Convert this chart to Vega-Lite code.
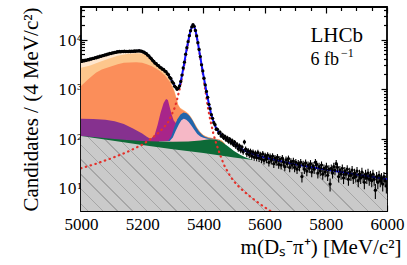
{
  "$schema": "https://vega.github.io/schema/vega-lite/v6.json",
  "width": 306,
  "height": 204,
  "autosize": "none",
  "padding": {"left": 81, "top": 7, "right": 20, "bottom": 54},
  "config": {"view": {"stroke": "black", "strokeWidth": 1.8}, "font": "Liberation Serif"},
  "datasets": {
    "comp": [
      {"c":"cream","m":5000,"v":3550},{"c":"cream","m":5020,"v":3800},{"c":"cream","m":5040,"v":4100},{"c":"cream","m":5060,"v":4450},{"c":"cream","m":5080,"v":4850},{"c":"cream","m":5100,"v":5250},{"c":"cream","m":5120,"v":5600},{"c":"cream","m":5140,"v":5700},{"c":"cream","m":5160,"v":5700},{"c":"cream","m":5180,"v":5800},{"c":"cream","m":5192,"v":5850},{"c":"cream","m":5200,"v":5680},{"c":"cream","m":5210,"v":5250},{"c":"cream","m":5220,"v":4650},{"c":"cream","m":5230,"v":3950},{"c":"cream","m":5240,"v":3350},{"c":"cream","m":5250,"v":2950},{"c":"cream","m":5260,"v":2600},{"c":"cream","m":5270,"v":2330},{"c":"cream","m":5280,"v":2020},{"c":"cream","m":5290,"v":1600},{"c":"cream","m":5300,"v":1150},{"c":"cream","m":5306,"v":900},{"c":"cream","m":5312,"v":650},{"c":"cream","m":5318,"v":480},{"c":"cream","m":5324,"v":420},{"c":"cream","m":5330,"v":395},{"c":"cream","m":5340,"v":360},{"c":"cream","m":5350,"v":322},{"c":"cream","m":5360,"v":268},{"c":"cream","m":5370,"v":210},{"c":"cream","m":5380,"v":164},{"c":"cream","m":5390,"v":136},{"c":"cream","m":5400,"v":118},{"c":"cream","m":5415,"v":107},{"c":"cream","m":5430,"v":102},{"c":"cream","m":5450,"v":97},{"c":"cream","m":5460,"v":91},{"c":"cream","m":5470,"v":78},
      {"c":"lorange","m":5000,"v":2680},{"c":"lorange","m":5030,"v":3000},{"c":"lorange","m":5060,"v":3500},{"c":"lorange","m":5090,"v":4100},{"c":"lorange","m":5120,"v":4700},{"c":"lorange","m":5150,"v":5100},{"c":"lorange","m":5180,"v":5300},{"c":"lorange","m":5200,"v":5200},{"c":"lorange","m":5210,"v":5000},{"c":"lorange","m":5220,"v":4550},{"c":"lorange","m":5230,"v":3880},{"c":"lorange","m":5240,"v":3300},{"c":"lorange","m":5250,"v":2900},{"c":"lorange","m":5260,"v":2560},{"c":"lorange","m":5270,"v":2290},{"c":"lorange","m":5280,"v":2000},{"c":"lorange","m":5290,"v":1590},{"c":"lorange","m":5300,"v":1140},{"c":"lorange","m":5306,"v":895},{"c":"lorange","m":5312,"v":645},{"c":"lorange","m":5318,"v":478},{"c":"lorange","m":5324,"v":420},{"c":"lorange","m":5330,"v":395},{"c":"lorange","m":5340,"v":360},{"c":"lorange","m":5350,"v":322},{"c":"lorange","m":5360,"v":268},{"c":"lorange","m":5370,"v":210},{"c":"lorange","m":5380,"v":164},{"c":"lorange","m":5390,"v":136},{"c":"lorange","m":5400,"v":118},{"c":"lorange","m":5415,"v":107},{"c":"lorange","m":5430,"v":102},{"c":"lorange","m":5450,"v":97},{"c":"lorange","m":5460,"v":91},{"c":"lorange","m":5470,"v":78},
      {"c":"orange","m":5000,"v":1150},{"c":"orange","m":5020,"v":1500},{"c":"orange","m":5035,"v":1820},{"c":"orange","m":5050,"v":2150},{"c":"orange","m":5068,"v":2480},{"c":"orange","m":5085,"v":2700},{"c":"orange","m":5100,"v":2880},{"c":"orange","m":5120,"v":3150},{"c":"orange","m":5140,"v":3380},{"c":"orange","m":5160,"v":3450},{"c":"orange","m":5180,"v":3470},{"c":"orange","m":5200,"v":3380},{"c":"orange","m":5215,"v":3150},{"c":"orange","m":5232,"v":2880},{"c":"orange","m":5245,"v":2600},{"c":"orange","m":5259,"v":2290},{"c":"orange","m":5275,"v":1850},{"c":"orange","m":5290,"v":1400},{"c":"orange","m":5300,"v":1050},{"c":"orange","m":5306,"v":840},{"c":"orange","m":5312,"v":620},{"c":"orange","m":5318,"v":465},{"c":"orange","m":5324,"v":410},{"c":"orange","m":5330,"v":380},{"c":"orange","m":5340,"v":350},{"c":"orange","m":5350,"v":315},{"c":"orange","m":5360,"v":262},{"c":"orange","m":5370,"v":205},{"c":"orange","m":5380,"v":160},{"c":"orange","m":5390,"v":133},{"c":"orange","m":5400,"v":116},{"c":"orange","m":5415,"v":105},{"c":"orange","m":5430,"v":101},{"c":"orange","m":5450,"v":96},{"c":"orange","m":5460,"v":90},{"c":"orange","m":5470,"v":78},
      {"c":"purple","m":5000,"v":250},{"c":"purple","m":5040,"v":247},{"c":"purple","m":5080,"v":238},{"c":"purple","m":5110,"v":222},{"c":"purple","m":5140,"v":196},{"c":"purple","m":5170,"v":160},{"c":"purple","m":5200,"v":126},{"c":"purple","m":5215,"v":108},{"c":"purple","m":5228,"v":98},{"c":"purple","m":5240,"v":115},
      {"c":"magenta","m":5200,"v":89},{"c":"magenta","m":5225,"v":91},{"c":"magenta","m":5240,"v":115},{"c":"magenta","m":5250,"v":185},{"c":"magenta","m":5260,"v":330},{"c":"magenta","m":5270,"v":520},{"c":"magenta","m":5278,"v":630},{"c":"magenta","m":5284,"v":600},{"c":"magenta","m":5290,"v":430},{"c":"magenta","m":5296,"v":310},{"c":"magenta","m":5303,"v":230},{"c":"magenta","m":5310,"v":205},{"c":"magenta","m":5318,"v":262},
      {"c":"blue","m":5255,"v":87.5},{"c":"blue","m":5285,"v":90},{"c":"blue","m":5295,"v":110},{"c":"blue","m":5305,"v":170},{"c":"blue","m":5315,"v":245},{"c":"blue","m":5325,"v":305},{"c":"blue","m":5335,"v":336},{"c":"blue","m":5345,"v":325},{"c":"blue","m":5355,"v":285},{"c":"blue","m":5365,"v":230},{"c":"blue","m":5375,"v":175},{"c":"blue","m":5385,"v":140},{"c":"blue","m":5395,"v":120},{"c":"blue","m":5405,"v":108},{"c":"blue","m":5420,"v":101},{"c":"blue","m":5440,"v":97},{"c":"blue","m":5455,"v":91},
      {"c":"pink","m":5255,"v":87.4},{"c":"pink","m":5290,"v":89},{"c":"pink","m":5300,"v":105},{"c":"pink","m":5310,"v":145},{"c":"pink","m":5320,"v":195},{"c":"pink","m":5328,"v":235},{"c":"pink","m":5336,"v":250},{"c":"pink","m":5344,"v":240},{"c":"pink","m":5352,"v":215},{"c":"pink","m":5360,"v":185},{"c":"pink","m":5370,"v":150},{"c":"pink","m":5380,"v":124},{"c":"pink","m":5390,"v":110},{"c":"pink","m":5400,"v":104},{"c":"pink","m":5412,"v":99},{"c":"pink","m":5425,"v":98},{"c":"pink","m":5440,"v":96.5},{"c":"pink","m":5450,"v":92},
      {"c":"green","m":5000,"v":113},{"c":"green","m":5050,"v":106},{"c":"green","m":5100,"v":99},{"c":"green","m":5150,"v":93},{"c":"green","m":5200,"v":89},{"c":"green","m":5250,"v":87},{"c":"green","m":5300,"v":86},{"c":"green","m":5350,"v":87},{"c":"green","m":5390,"v":91},{"c":"green","m":5420,"v":97},{"c":"green","m":5440,"v":96},{"c":"green","m":5460,"v":86},{"c":"green","m":5480,"v":70},{"c":"green","m":5500,"v":56},{"c":"green","m":5520,"v":47},{"c":"green","m":5540,"v":41},{"c":"green","m":5560,"v":37.2},
      {"c":"grey","m":5000,"v":112},{"c":"grey","m":5100,"v":91},{"c":"grey","m":5200,"v":74},{"c":"grey","m":5300,"v":61},{"c":"grey","m":5400,"v":51},{"c":"grey","m":5500,"v":41.5},{"c":"grey","m":5600,"v":34.5},{"c":"grey","m":5700,"v":28},{"c":"grey","m":5800,"v":22.5},{"c":"grey","m":5900,"v":18.3},{"c":"grey","m":6000,"v":14.8}
    ],
    "sig": [
      {"m":5000,"v":25},{"m":5050,"v":31},{"m":5100,"v":40},{"m":5150,"v":53},{"m":5200,"v":75},{"m":5230,"v":100},{"m":5250,"v":125},{"m":5270,"v":165},{"m":5285,"v":215},{"m":5295,"v":290},{"m":5305,"v":400},{"m":5312,"v":550},{"m":5318,"v":780},{"m":5324,"v":1100},{"m":5330,"v":1700},{"m":5336,"v":2700},{"m":5342,"v":4500},{"m":5348,"v":7300},{"m":5354,"v":11500},{"m":5360,"v":16000},{"m":5366,"v":19400},{"m":5372,"v":16300},{"m":5378,"v":11300},{"m":5384,"v":7000},{"m":5390,"v":4200},{"m":5396,"v":2500},{"m":5402,"v":1400},{"m":5408,"v":800},{"m":5414,"v":450},{"m":5420,"v":280},{"m":5426,"v":190},{"m":5432,"v":130},{"m":5438,"v":95},{"m":5445,"v":70},{"m":5452,"v":52},{"m":5460,"v":38},{"m":5470,"v":27},{"m":5480,"v":21},{"m":5490,"v":16.5},{"m":5500,"v":13.5},{"m":5520,"v":10},{"m":5540,"v":7.8},{"m":5560,"v":6.2},{"m":5580,"v":5},{"m":5600,"v":4.1},{"m":5620,"v":3.4}
    ],
    "fit": [
      {"m":5000,"v":3600},{"m":5020,"v":3850},{"m":5040,"v":4150},{"m":5060,"v":4500},{"m":5080,"v":4900},{"m":5100,"v":5300},{"m":5120,"v":5650},{"m":5140,"v":5750},{"m":5160,"v":5750},{"m":5180,"v":5850},{"m":5192,"v":5900},{"m":5200,"v":5750},{"m":5210,"v":5350},{"m":5220,"v":4750},{"m":5230,"v":4050},{"m":5240,"v":3450},{"m":5250,"v":3050},{"m":5260,"v":2700},{"m":5270,"v":2450},{"m":5280,"v":2150},{"m":5290,"v":1750},{"m":5300,"v":1350},{"m":5308,"v":1100},{"m":5314,"v":1000},{"m":5320,"v":1050},{"m":5326,"v":1400},{"m":5332,"v":2200},{"m":5338,"v":3500},{"m":5344,"v":5800},{"m":5350,"v":9000},{"m":5356,"v":13500},{"m":5362,"v":18000},{"m":5364,"v":19400},{"m":5366,"v":19800},{"m":5368,"v":19400},{"m":5370,"v":18500},{"m":5376,"v":13500},{"m":5382,"v":8600},{"m":5388,"v":5200},{"m":5394,"v":3100},{"m":5400,"v":1900},{"m":5406,"v":1200},{"m":5412,"v":760},{"m":5418,"v":500},{"m":5424,"v":340},{"m":5430,"v":250},{"m":5436,"v":195},{"m":5442,"v":160},{"m":5450,"v":135},{"m":5460,"v":116},{"m":5470,"v":104},{"m":5480,"v":95},{"m":5490,"v":86},{"m":5500,"v":78},{"m":5510,"v":71},{"m":5520,"v":64},{"m":5530,"v":59},{"m":5540,"v":55},{"m":5560,"v":49},{"m":5580,"v":45},{"m":5600,"v":41.5},{"m":5650,"v":35},{"m":5700,"v":30},{"m":5750,"v":26.5},{"m":5800,"v":23.5},{"m":5850,"v":21},{"m":5900,"v":18.8},{"m":5950,"v":16.8},{"m":6000,"v":15}
    ],
    "pts": [
      {"m":5002,"v":3610,"e":60},{"m":5006,"v":3720,"e":61},{"m":5010,"v":3690,"e":61},{"m":5014,"v":3810,"e":62},{"m":5018,"v":3790,"e":62},{"m":5022,"v":3920,"e":63},{"m":5026,"v":3900,"e":62},{"m":5030,"v":4050,"e":64},{"m":5034,"v":4020,"e":63},{"m":5038,"v":4170,"e":65},
      {"m":5042,"v":4150,"e":64},{"m":5046,"v":4300,"e":66},{"m":5050,"v":4280,"e":65},{"m":5054,"v":4440,"e":67},{"m":5058,"v":4420,"e":66},{"m":5062,"v":4590,"e":68},{"m":5066,"v":4580,"e":68},{"m":5070,"v":4740,"e":69},{"m":5074,"v":4730,"e":69},{"m":5078,"v":4900,"e":70},
      {"m":5082,"v":4890,"e":70},{"m":5086,"v":5080,"e":71},{"m":5090,"v":5050,"e":71},{"m":5094,"v":5230,"e":72},{"m":5098,"v":5210,"e":72},{"m":5102,"v":5380,"e":73},{"m":5106,"v":5360,"e":73},{"m":5110,"v":5520,"e":74},{"m":5114,"v":5490,"e":74},{"m":5118,"v":5660,"e":75},
      {"m":5122,"v":5610,"e":75},{"m":5126,"v":5730,"e":76},{"m":5130,"v":5650,"e":75},{"m":5134,"v":5760,"e":76},{"m":5138,"v":5700,"e":75},{"m":5142,"v":5790,"e":76},{"m":5146,"v":5700,"e":75},{"m":5150,"v":5780,"e":76},{"m":5154,"v":5710,"e":76},{"m":5158,"v":5800,"e":76},
      {"m":5162,"v":5720,"e":76},{"m":5166,"v":5830,"e":76},{"m":5170,"v":5760,"e":76},{"m":5174,"v":5870,"e":77},{"m":5178,"v":5800,"e":76},{"m":5182,"v":5900,"e":77},{"m":5186,"v":5830,"e":76},{"m":5190,"v":5940,"e":77},{"m":5194,"v":5820,"e":76},{"m":5198,"v":5840,"e":76},
      {"m":5202,"v":5630,"e":75},{"m":5206,"v":5560,"e":75},{"m":5210,"v":5300,"e":73},{"m":5214,"v":5160,"e":72},{"m":5218,"v":4820,"e":69},{"m":5222,"v":4660,"e":68},{"m":5226,"v":4290,"e":65},{"m":5230,"v":4090,"e":64},{"m":5234,"v":3770,"e":61},{"m":5238,"v":3610,"e":60},
      {"m":5242,"v":3330,"e":58},{"m":5246,"v":3250,"e":57},{"m":5250,"v":3010,"e":55},{"m":5254,"v":2950,"e":54},{"m":5258,"v":2740,"e":52},{"m":5262,"v":2680,"e":52},{"m":5266,"v":2520,"e":50},{"m":5270,"v":2480,"e":50},{"m":5274,"v":2300,"e":48},{"m":5278,"v":2240,"e":47},
      {"m":5282,"v":2040,"e":45},{"m":5286,"v":1940,"e":44},{"m":5290,"v":1720,"e":41},{"m":5294,"v":1610,"e":40},{"m":5298,"v":1410,"e":38},{"m":5302,"v":1310,"e":36},{"m":5306,"v":1140,"e":34},{"m":5310,"v":1080,"e":33},{"m":5314,"v":990,"e":31},{"m":5318,"v":1045,"e":32},
      {"m":5322,"v":1150,"e":34},{"m":5326,"v":1420,"e":38},{"m":5330,"v":1910,"e":44},{"m":5334,"v":2660,"e":52},{"m":5338,"v":3480,"e":59},{"m":5342,"v":5060,"e":71},{"m":5346,"v":6830,"e":83},{"m":5350,"v":9050,"e":95},{"m":5354,"v":11950,"e":109},{"m":5358,"v":15050,"e":123},
      {"m":5362,"v":17950,"e":134},{"m":5366,"v":19850,"e":141},{"m":5370,"v":18450,"e":136},{"m":5374,"v":15220,"e":123},{"m":5378,"v":11820,"e":109},{"m":5382,"v":8650,"e":93},{"m":5386,"v":6290,"e":79},{"m":5390,"v":4530,"e":67},{"m":5394,"v":3080,"e":55},{"m":5398,"v":2320,"e":48},
      {"m":5402,"v":1650,"e":41},{"m":5406,"v":1210,"e":35},{"m":5410,"v":895,"e":30},{"m":5414,"v":680,"e":26},{"m":5418,"v":490,"e":22},{"m":5422,"v":400,"e":20},{"m":5426,"v":302,"e":17.4},{"m":5430,"v":256,"e":16},{"m":5434,"v":208,"e":14.4},{"m":5438,"v":190,"e":13.8},
      {"m":5442,"v":154,"e":12.4},{"m":5446,"v":153,"e":12.4},{"m":5450,"v":129,"e":11.4},{"m":5454,"v":134,"e":11.6},{"m":5458,"v":113,"e":10.6},{"m":5462,"v":120,"e":11},{"m":5466,"v":104,"e":10.2},{"m":5470,"v":110,"e":10.5},{"m":5474,"v":95,"e":9.7},{"m":5478,"v":103,"e":10.1},
      {"m":5482,"v":88,"e":9.4},{"m":5486,"v":97,"e":9.8},{"m":5490,"v":82,"e":9.1},{"m":5494,"v":90,"e":9.5},{"m":5498,"v":76,"e":8.7},{"m":5502,"v":84,"e":9.2},{"m":5506,"v":70,"e":8.4},{"m":5510,"v":76,"e":8.7},{"m":5514,"v":62,"e":7.9},{"m":5518,"v":71,"e":8.4},
      {"m":5522,"v":58,"e":7.6},{"m":5526,"v":67,"e":8.2},{"m":5530,"v":54,"e":7.3},{"m":5534,"v":85,"e":9.2},{"m":5538,"v":61,"e":7.8},{"m":5542,"v":49,"e":7},{"m":5546,"v":57,"e":7.5},{"m":5550,"v":47,"e":6.9},{"m":5554,"v":55,"e":7.4},{"m":5558,"v":44,"e":6.6},
      {"m":5562,"v":53,"e":7.3},{"m":5566,"v":42,"e":6.5},{"m":5570,"v":50,"e":7.1},{"m":5574,"v":41,"e":6.4},{"m":5578,"v":52,"e":7.2},{"m":5582,"v":40,"e":6.3},{"m":5586,"v":47,"e":6.9},{"m":5590,"v":38,"e":6.2},{"m":5594,"v":49,"e":7},{"m":5598,"v":36,"e":6},
      {"m":5602,"v":45,"e":6.7},{"m":5606,"v":38,"e":6.2},{"m":5610,"v":46,"e":6.8},{"m":5614,"v":33,"e":5.7},{"m":5618,"v":43,"e":6.6},{"m":5622,"v":36,"e":6},{"m":5626,"v":44,"e":6.6},{"m":5630,"v":31,"e":5.6},{"m":5634,"v":40,"e":6.3},{"m":5638,"v":34,"e":5.8},
      {"m":5642,"v":42,"e":6.5},{"m":5646,"v":30,"e":5.5},{"m":5650,"v":38,"e":6.2},{"m":5654,"v":29,"e":5.4},{"m":5658,"v":40,"e":6.3},{"m":5662,"v":33,"e":5.7},{"m":5666,"v":27,"e":5.2},{"m":5670,"v":37,"e":6.1},{"m":5674,"v":31,"e":5.6},{"m":5678,"v":39,"e":6.2},
      {"m":5682,"v":26,"e":5.1},{"m":5686,"v":34,"e":5.8},{"m":5690,"v":29,"e":5.4},{"m":5694,"v":35,"e":5.9},{"m":5698,"v":26,"e":5.1},{"m":5702,"v":33,"e":5.7},{"m":5706,"v":24,"e":4.9},{"m":5710,"v":31,"e":5.6},{"m":5714,"v":27,"e":5.2},{"m":5718,"v":33,"e":5.7},
      {"m":5722,"v":17,"e":4.1},{"m":5726,"v":30,"e":5.5},{"m":5730,"v":24,"e":4.9},{"m":5734,"v":32,"e":5.7},{"m":5738,"v":22,"e":4.7},{"m":5742,"v":29,"e":5.4},{"m":5746,"v":25,"e":5},{"m":5750,"v":31,"e":5.6},{"m":5754,"v":21,"e":4.6},{"m":5758,"v":28,"e":5.3},
      {"m":5762,"v":24,"e":4.9},{"m":5766,"v":33,"e":5.7},{"m":5770,"v":30,"e":5.5},{"m":5774,"v":20,"e":4.5},{"m":5778,"v":27,"e":5.2},{"m":5782,"v":22,"e":4.7},{"m":5786,"v":29,"e":5.4},{"m":5790,"v":19,"e":4.4},{"m":5794,"v":25,"e":5},{"m":5798,"v":21,"e":4.6},
      {"m":5802,"v":27,"e":5.2},{"m":5806,"v":18,"e":4.2},{"m":5810,"v":24,"e":4.9},{"m":5814,"v":12,"e":3.5},{"m":5818,"v":25,"e":5},{"m":5822,"v":20,"e":4.5},{"m":5826,"v":27,"e":5.2},{"m":5830,"v":23,"e":4.8},{"m":5834,"v":31,"e":5.6},{"m":5838,"v":26,"e":5.1},
      {"m":5842,"v":17,"e":4.1},{"m":5846,"v":23,"e":4.8},{"m":5850,"v":19,"e":4.4},{"m":5854,"v":25,"e":5},{"m":5858,"v":16,"e":4},{"m":5862,"v":22,"e":4.7},{"m":5866,"v":19,"e":4.4},{"m":5870,"v":24,"e":4.9},{"m":5874,"v":15,"e":3.9},{"m":5878,"v":21,"e":4.6},
      {"m":5882,"v":18,"e":4.2},{"m":5886,"v":23,"e":4.8},{"m":5890,"v":16,"e":4},{"m":5894,"v":20,"e":4.5},{"m":5898,"v":17,"e":4.1},{"m":5902,"v":22,"e":4.7},{"m":5906,"v":14,"e":3.7},{"m":5910,"v":19,"e":4.4},{"m":5914,"v":16,"e":4},{"m":5918,"v":21,"e":4.6},
      {"m":5922,"v":17,"e":4.1},{"m":5926,"v":13,"e":3.6},{"m":5930,"v":19,"e":4.4},{"m":5934,"v":16,"e":4},{"m":5938,"v":20,"e":4.5},{"m":5942,"v":15,"e":3.9},{"m":5946,"v":18,"e":4.2},{"m":5950,"v":14,"e":3.7},{"m":5954,"v":19,"e":4.4},{"m":5958,"v":15,"e":3.9},
      {"m":5962,"v":9,"e":3},{"m":5966,"v":17,"e":4.1},{"m":5970,"v":13,"e":3.6},{"m":5974,"v":18,"e":4.2},{"m":5978,"v":14,"e":3.7},{"m":5982,"v":16,"e":4},{"m":5986,"v":12,"e":3.5},{"m":5990,"v":17,"e":4.1},{"m":5994,"v":14,"e":3.7},{"m":5998,"v":11,"e":3.3}
    ]
  },
  "encoding": {
    "x": {"field": "m", "type": "quantitative", "scale": {"domain": [5000, 6000], "nice": false, "zero": false}, "axis": null},
    "y": {"field": "v", "type": "quantitative", "scale": {"type": "log", "domain": [3.43, 45400], "nice": false}, "axis": null}
  },
  "resolve": {"axis": {"x": "independent", "y": "independent"}},
  "layer": [
    {"data": {"name": "comp"}, "transform": [{"filter": "datum.c == 'cream'"}], "mark": {"type": "area", "color": "#fee6ce", "opacity": 1, "clip": true}, "encoding": {"y2": {"datum": 3.43}}},
    {"data": {"name": "comp"}, "transform": [{"filter": "datum.c == 'lorange'"}], "mark": {"type": "area", "color": "#fdc68c", "opacity": 1, "clip": true}, "encoding": {"y2": {"datum": 3.43}}},
    {"data": {"name": "comp"}, "transform": [{"filter": "datum.c == 'orange'"}], "mark": {"type": "area", "color": "#fb8e5a", "opacity": 1, "clip": true}, "encoding": {"y2": {"datum": 3.43}}},
    {"data": {"name": "comp"}, "transform": [{"filter": "datum.c == 'purple'"}], "mark": {"type": "area", "color": "#86318f", "opacity": 1, "clip": true}, "encoding": {"y2": {"datum": 3.43}}},
    {"data": {"name": "comp"}, "transform": [{"filter": "datum.c == 'magenta'"}], "mark": {"type": "area", "color": "#a8258a", "opacity": 1, "clip": true}, "encoding": {"y2": {"datum": 3.43}}},
    {"data": {"name": "comp"}, "transform": [{"filter": "datum.c == 'blue'"}], "mark": {"type": "area", "color": "#2166ac", "opacity": 1, "clip": true}, "encoding": {"y2": {"datum": 3.43}}},
    {"data": {"name": "comp"}, "transform": [{"filter": "datum.c == 'pink'"}], "mark": {"type": "area", "color": "#f6b8c6", "opacity": 1, "clip": true}, "encoding": {"y2": {"datum": 3.43}}},
    {"data": {"name": "comp"}, "transform": [{"filter": "datum.c == 'green'"}], "mark": {"type": "area", "color": "#0d6a37", "opacity": 1, "clip": true}, "encoding": {"y2": {"datum": 3.43}}},
    {"data": {"name": "comp"}, "transform": [{"filter": "datum.c == 'grey'"}],
      "mark": {"type": "area", "opacity": 1, "clip": true,
        "color": {"gradient": "linear", "x1": 0, "y1": 1, "x2": 1, "y2": 0.755, "stops": [
          {"offset": 0, "color": "#cacaca"},
          {"offset": 0.0200, "color": "#cacaca"},{"offset": 0.0200, "color": "#a6a6a6"},{"offset": 0.0240, "color": "#a6a6a6"},{"offset": 0.0240, "color": "#cacaca"},
          {"offset": 0.0655, "color": "#cacaca"},{"offset": 0.0655, "color": "#a6a6a6"},{"offset": 0.0695, "color": "#a6a6a6"},{"offset": 0.0695, "color": "#cacaca"},
          {"offset": 0.1109, "color": "#cacaca"},{"offset": 0.1109, "color": "#a6a6a6"},{"offset": 0.1149, "color": "#a6a6a6"},{"offset": 0.1149, "color": "#cacaca"},
          {"offset": 0.1564, "color": "#cacaca"},{"offset": 0.1564, "color": "#a6a6a6"},{"offset": 0.1604, "color": "#a6a6a6"},{"offset": 0.1604, "color": "#cacaca"},
          {"offset": 0.2018, "color": "#cacaca"},{"offset": 0.2018, "color": "#a6a6a6"},{"offset": 0.2058, "color": "#a6a6a6"},{"offset": 0.2058, "color": "#cacaca"},
          {"offset": 0.2473, "color": "#cacaca"},{"offset": 0.2473, "color": "#a6a6a6"},{"offset": 0.2513, "color": "#a6a6a6"},{"offset": 0.2513, "color": "#cacaca"},
          {"offset": 0.2927, "color": "#cacaca"},{"offset": 0.2927, "color": "#a6a6a6"},{"offset": 0.2967, "color": "#a6a6a6"},{"offset": 0.2967, "color": "#cacaca"},
          {"offset": 0.3382, "color": "#cacaca"},{"offset": 0.3382, "color": "#a6a6a6"},{"offset": 0.3422, "color": "#a6a6a6"},{"offset": 0.3422, "color": "#cacaca"},
          {"offset": 0.3836, "color": "#cacaca"},{"offset": 0.3836, "color": "#a6a6a6"},{"offset": 0.3876, "color": "#a6a6a6"},{"offset": 0.3876, "color": "#cacaca"},
          {"offset": 0.4291, "color": "#cacaca"},{"offset": 0.4291, "color": "#a6a6a6"},{"offset": 0.4331, "color": "#a6a6a6"},{"offset": 0.4331, "color": "#cacaca"},
          {"offset": 0.4745, "color": "#cacaca"},{"offset": 0.4745, "color": "#a6a6a6"},{"offset": 0.4785, "color": "#a6a6a6"},{"offset": 0.4785, "color": "#cacaca"},
          {"offset": 0.5200, "color": "#cacaca"},{"offset": 0.5200, "color": "#a6a6a6"},{"offset": 0.5240, "color": "#a6a6a6"},{"offset": 0.5240, "color": "#cacaca"},
          {"offset": 0.5654, "color": "#cacaca"},{"offset": 0.5654, "color": "#a6a6a6"},{"offset": 0.5694, "color": "#a6a6a6"},{"offset": 0.5694, "color": "#cacaca"},
          {"offset": 0.6109, "color": "#cacaca"},{"offset": 0.6109, "color": "#a6a6a6"},{"offset": 0.6149, "color": "#a6a6a6"},{"offset": 0.6149, "color": "#cacaca"},
          {"offset": 0.6563, "color": "#cacaca"},{"offset": 0.6563, "color": "#a6a6a6"},{"offset": 0.6603, "color": "#a6a6a6"},{"offset": 0.6603, "color": "#cacaca"},
          {"offset": 0.7018, "color": "#cacaca"},{"offset": 0.7018, "color": "#a6a6a6"},{"offset": 0.7058, "color": "#a6a6a6"},{"offset": 0.7058, "color": "#cacaca"},
          {"offset": 0.7472, "color": "#cacaca"},{"offset": 0.7472, "color": "#a6a6a6"},{"offset": 0.7512, "color": "#a6a6a6"},{"offset": 0.7512, "color": "#cacaca"},
          {"offset": 0.7927, "color": "#cacaca"},{"offset": 0.7927, "color": "#a6a6a6"},{"offset": 0.7967, "color": "#a6a6a6"},{"offset": 0.7967, "color": "#cacaca"},
          {"offset": 0.8381, "color": "#cacaca"},{"offset": 0.8381, "color": "#a6a6a6"},{"offset": 0.8421, "color": "#a6a6a6"},{"offset": 0.8421, "color": "#cacaca"},
          {"offset": 0.8836, "color": "#cacaca"},{"offset": 0.8836, "color": "#a6a6a6"},{"offset": 0.8876, "color": "#a6a6a6"},{"offset": 0.8876, "color": "#cacaca"},
          {"offset": 0.9290, "color": "#cacaca"},{"offset": 0.9290, "color": "#a6a6a6"},{"offset": 0.9330, "color": "#a6a6a6"},{"offset": 0.9330, "color": "#cacaca"},
          {"offset": 0.9745, "color": "#cacaca"},{"offset": 0.9745, "color": "#a6a6a6"},{"offset": 0.9785, "color": "#a6a6a6"},{"offset": 0.9785, "color": "#cacaca"},
          {"offset": 1, "color": "#cacaca"}]}},
      "encoding": {
        "x": {"field": "m", "type": "quantitative", "scale": {"domain": [5000, 6000], "nice": false, "zero": false},
          "axis": {"orient": "bottom", "values": [5000,5050,5100,5150,5200,5250,5300,5350,5400,5450,5500,5550,5600,5650,5700,5750,5800,5850,5900,5950,6000], "format": "d",
            "labelExpr": "datum.value % 200 == 0 ? datum.label : ''",
            "tickSize": {"condition": {"test": "datum.value % 200 == 0", "value": -6}, "value": -3.5},
            "tickColor": "black", "tickWidth": 1.2, "domain": false, "grid": false,
            "labelFont": "Liberation Serif", "labelFontSize": 17, "labelColor": "black", "labelPadding": 11, "labelFlush": false, "labelOverlap": false,
            "title": "m(Dₛ⁻π⁺) [MeV/c²]", "titleFont": "Liberation Serif", "titleFontSize": 21, "titleFontWeight": "normal", "titleColor": "black",
            "titleX": 320, "titleY": 42, "titleAlign": "right", "titleAnchor": "end", "titleBaseline": "alphabetic"}},
        "y": {"field": "v", "type": "quantitative", "scale": {"type": "log", "domain": [3.43, 45400], "nice": false},
          "axis": {"orient": "left", "values": [4,5,6,7,8,9,10,20,30,40,50,60,70,80,90,100,200,300,400,500,600,700,800,900,1000,2000,3000,4000,5000,6000,7000,8000,9000,10000,20000,30000,40000],
            "labelExpr": "datum.value == 10 ? '10¹' : datum.value == 100 ? '10²' : datum.value == 1000 ? '10³' : datum.value == 10000 ? '10⁴' : ''",
            "tickSize": {"condition": {"test": "datum.value == 10 || datum.value == 100 || datum.value == 1000 || datum.value == 10000", "value": -6}, "value": -3.5},
            "tickColor": "black", "tickWidth": 1.2, "domain": false, "grid": false,
            "labelFont": "DejaVu Serif", "labelFontSize": 14.5, "labelColor": "black", "labelPadding": 5, "labelOffset": 1.5, "labelFlush": false, "labelOverlap": false,
            "title": "Candidates / (4 MeV/c²)", "titleFont": "Liberation Serif", "titleFontSize": 21, "titleFontWeight": "normal", "titleColor": "black",
            "titleX": -50, "titleY": 102, "titleAngle": -90, "titleAlign": "center", "titleBaseline": "middle"}},
        "y2": {"datum": 3.43}}},
    {"data": {"name": "sig"}, "mark": {"type": "line", "color": "#e4322b", "strokeWidth": 2.2, "strokeDash": [0.5, 4.5], "strokeCap": "round", "clip": true}, "encoding": {}},
    {"data": {"name": "fit"}, "mark": {"type": "line", "color": "#1010ff", "strokeWidth": 2, "clip": true},
      "encoding": {
        "x": {"field": "m", "type": "quantitative", "scale": {"domain": [5000, 6000], "nice": false, "zero": false},
          "axis": {"orient": "top", "values": [5000,5050,5100,5150,5200,5250,5300,5350,5400,5450,5500,5550,5600,5650,5700,5750,5800,5850,5900,5950,6000],
            "labels": false, "title": null, "domain": false, "grid": false,
            "tickSize": {"condition": {"test": "datum.value % 200 == 0", "value": -6}, "value": -3.5},
            "tickColor": "black", "tickWidth": 1.2}},
        "y": {"field": "v", "type": "quantitative", "scale": {"type": "log", "domain": [3.43, 45400], "nice": false},
          "axis": {"orient": "right", "values": [4,5,6,7,8,9,10,20,30,40,50,60,70,80,90,100,200,300,400,500,600,700,800,900,1000,2000,3000,4000,5000,6000,7000,8000,9000,10000,20000,30000,40000],
            "labels": false, "title": null, "domain": false, "grid": false,
            "tickSize": {"condition": {"test": "datum.value == 10 || datum.value == 100 || datum.value == 1000 || datum.value == 10000", "value": -6}, "value": -3.5},
            "tickColor": "black", "tickWidth": 1.2}}}},
    {"data": {"name": "pts"}, "mark": {"type": "errorbar", "ticks": false, "thickness": 1.1, "color": "black", "clip": true}, "encoding": {"yError": {"field": "e"}}},
    {"data": {"name": "pts"}, "mark": {"type": "point", "filled": true, "color": "black", "size": 11, "opacity": 1, "clip": true}},
    {"data": {"name": "fit"}, "transform": [{"filter": "datum.m == 5750"}], "mark": {"type": "text", "text": "LHCb", "font": "Liberation Serif", "fontSize": 21, "align": "left", "baseline": "alphabetic", "color": "black"},
      "encoding": {"y": {"datum": 8780, "type": "quantitative"}}},
    {"data": {"name": "fit"}, "transform": [{"filter": "datum.m == 5750"}], "mark": {"type": "text", "text": "6 fb", "font": "Liberation Serif", "fontSize": 18, "align": "left", "baseline": "alphabetic", "color": "black"},
      "encoding": {"y": {"datum": 3055, "type": "quantitative"}}},
    {"data": {"name": "fit"}, "transform": [{"filter": "datum.m == 5850"}], "mark": {"type": "text", "text": "−1", "font": "Liberation Serif", "fontSize": 12, "align": "left", "baseline": "alphabetic", "color": "black"},
      "encoding": {"y": {"datum": 4450, "type": "quantitative"}}}
  ]
}
